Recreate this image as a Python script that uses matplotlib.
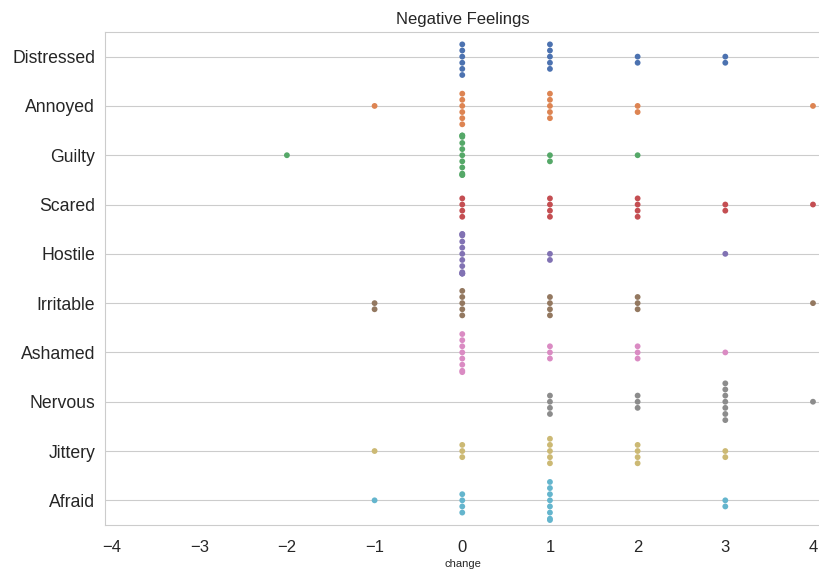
import numpy as np
import pandas as pd
import matplotlib
matplotlib.use("Agg")
import matplotlib.pyplot as plt
import seaborn as sns
import warnings

warnings.filterwarnings("ignore")

# change values and how many responses fall on each, per feeling
change_values = [-2, -1, 0, 1, 2, 3, 4]
feelings = ["Distressed", "Annoyed", "Guilty", "Scared", "Hostile",
            "Irritable", "Ashamed", "Nervous", "Jittery", "Afraid"]
distressed = [0, 0, 6, 5, 2, 2, 0]
annoyed = [0, 1, 6, 5, 2, 0, 1]
guilty = [1, 0, 11, 2, 1, 0, 0]
scared = [0, 0, 4, 4, 4, 2, 1]
hostile = [0, 0, 12, 2, 0, 1, 0]
irritable = [0, 2, 5, 4, 3, 0, 1]
ashamed = [0, 0, 8, 3, 3, 1, 0]
nervous = [0, 0, 0, 4, 3, 7, 1]
jittery = [0, 1, 3, 5, 4, 2, 0]
afraid = [0, 1, 4, 8, 0, 2, 0]
counts = [distressed, annoyed, guilty, scared, hostile,
          irritable, ashamed, nervous, jittery, afraid]
xticks = [-4, -3, -2, -1, 0, 1, 2, 3, 4]

rows = []
for name, cnt in zip(feelings, counts):
    for val, n in zip(change_values, cnt):
        rows += [(name, val)] * n
df = pd.DataFrame(rows, columns=["variable", "change"])

sns.set_style("whitegrid")
plt.rcParams['font.family'] = ['Liberation Sans', 'DejaVu Sans']

fig = plt.figure(figsize=(8.2, 5.71), dpi=100)
ax = fig.add_axes([0.128, 0.0806, 0.872, 0.8634])

sns.swarmplot(data=df, x="change", y="variable", hue="variable",
              order=feelings, hue_order=feelings, palette="deep",
              size=4.2, legend=False, ax=ax)

ax.set_xlim(-4.075, 4.08)
ax.set_ylim(9.5, -0.5)
ax.set_xticks(xticks)
ax.set_xticklabels([f"\u2212{abs(t)}" if t < 0 else str(t) for t in xticks])
ax.tick_params(axis='x', labelsize=12, pad=7)
ax.tick_params(axis='y', labelsize=12.7)
ax.xaxis.grid(False)
ax.yaxis.grid(True)
ax.set_xlabel("change", fontsize=8, labelpad=3)
ax.set_ylabel("")
ax.set_title("Negative Feelings", fontsize=12, pad=6)
ax.spines['right'].set_visible(False)

fig.savefig("out.png", dpi=100)
